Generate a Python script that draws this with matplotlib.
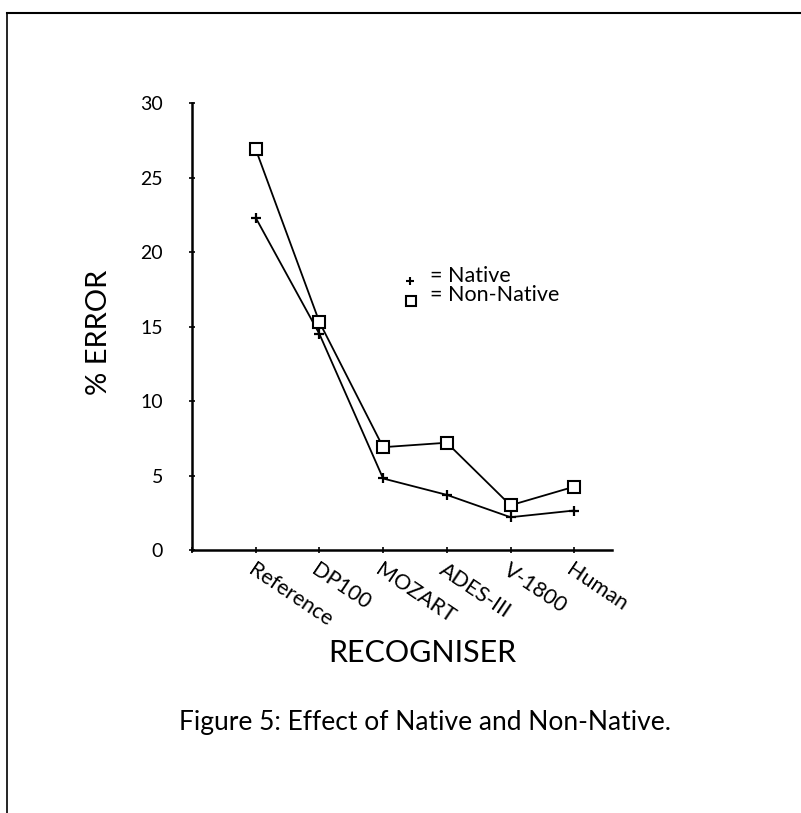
import matplotlib
matplotlib.use("Agg")
import matplotlib.pyplot as plt
from matplotlib.lines import Line2D

categories = ["Reference", "DP100", "MOZART", "ADES-III", "V-1800", "Human"]
native = [22.3, 14.5, 4.8, 3.7, 2.2, 2.65]
non_native = [26.9, 15.3, 6.9, 7.2, 3.0, 4.25]
yticks = [0, 5, 10, 15, 20, 25, 30]

plt.rcParams['font.family'] = ['Lato', 'DejaVu Sans']

fig = plt.figure(figsize=(8.01, 8.13), dpi=100)
ax = fig.add_axes([192/801, 1-550/813, (612-192)/801, (550-103)/813])

x = list(range(1, len(categories)+1))
ax.plot(x, native, color='black', lw=1.3, marker='+', ms=7, mew=1.6)
ax.plot(x, non_native, color='black', lw=1.3, marker='s', ms=8, mfc='white', mec='black', mew=1.5)

xmax = (612-192)/63.7
ax.set_xlim(0, xmax)
ax.set_ylim(0, 30)
ax.spines['top'].set_visible(False)
ax.spines['right'].set_visible(False)
for s in ['left', 'bottom']:
    ax.spines[s].set_linewidth(1.8)
ax.set_yticks(yticks)
ax.set_yticklabels([str(v) for v in yticks], fontsize=14)
ax.tick_params(axis='y', direction='inout', length=4, width=1.2, pad=19)
ax.set_xticks([0] + x)
ax.set_xticklabels([''] + categories, fontsize=15.5, rotation=-34,
                   ha='left', va='top', rotation_mode='anchor')
ax.tick_params(axis='x', direction='inout', length=4, width=1.2, pad=5)

ax.set_ylabel("% ERROR", fontsize=21)
ax.yaxis.set_label_coords((112-192)/(612-192), (550-332)/(550-103))

# legend as text
def px(xp):
    return (xp-192)/63.7
def py(yp):
    return (550-yp)/14.9
ax.plot([px(410)], [py(281)], marker='+', color='black', ms=6, mew=1.5, clip_on=False)
ax.plot([px(411)], [py(301)], marker='s', color='black', ms=7, mfc='white', mew=1.5, clip_on=False)
ax.text(px(430), py(276), "= Native", fontsize=15.5, va='center', ha='left')
ax.text(px(430), py(295), "= Non-Native", fontsize=15.5, va='center', ha='left')

fig.text(422/801, 1-653/813, "RECOGNISER", fontsize=22, ha='center', va='center')
fig.text(425/801, 1-722/813, "Figure 5: Effect of Native and Non-Native.", fontsize=19,
         ha='center', va='center')

# scanned page border
fig.add_artist(Line2D([7/801, 1], [1-13/813, 1-13/813], color='black', lw=1.5))
fig.add_artist(Line2D([7/801, 7/801], [1-13/813, 0], color='black', lw=1.2))

fig.savefig("out.png", dpi=100)
